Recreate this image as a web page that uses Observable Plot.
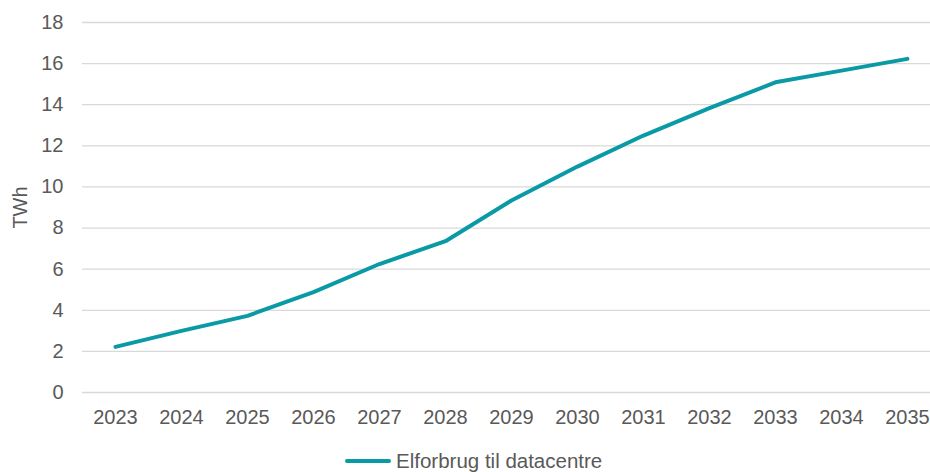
<!DOCTYPE html>
<html>
<head>
<meta charset="utf-8">
<script src="https://cdn.jsdelivr.net/npm/d3@7"></script>
<script src="https://cdn.jsdelivr.net/npm/@observablehq/plot@0.6"></script>
<style>
  body { margin: 0; background: #fff; font-family: "Liberation Sans", Arial, sans-serif; }
  #legend { position: relative; width: 930px; height: 32px; }
  #legend .item { position: absolute; left: 345px; top: 7px; display: flex; align-items: center; color: #595959; font-size: 20.5px; line-height: 28px; }
  #legend .swatch { width: 46px; height: 4px; border-radius: 2px; margin-right: 5px; }
</style>
</head>
<body>
<div id="chart"></div>
<div id="legend"></div>
<script>
// Danish data-centre electricity consumption, TWh per year
const years = [2023, 2024, 2025, 2026, 2027, 2028, 2029, 2030, 2031, 2032, 2033, 2034, 2035];
const values = [2.22, 3.0, 3.73, 4.88, 6.25, 7.36, 9.34, 10.99, 12.5, 13.83, 15.09, 15.66, 16.23];
const yTicks = [0, 2, 4, 6, 8, 10, 12, 14, 16, 18];
const seriesName = "Elforbrug til datacentre";
const yLabel = "TWh";
const lineColor = "#0a9aa5";

const data = years.map((year, i) => ({year, value: values[i]}));

const chart = Plot.plot({
  width: 930,
  height: 440,
  marginTop: 22,
  marginBottom: 48,
  marginLeft: 82,
  marginRight: 0,
  style: {fontFamily: "'Liberation Sans', Arial, sans-serif", fontSize: "20px", color: "#595959", background: "#fff"},
  x: {type: "linear", domain: [2022.5, 2035.35]},
  y: {domain: [0, 18]},
  marks: [
    Plot.ruleY(yTicks, {stroke: "#d9d9d9", strokeWidth: 1.3}),
    Plot.axisY(yTicks, {tickSize: 0, tickPadding: 19, fontSize: 20, label: yLabel, labelAnchor: "center", labelArrow: "none", labelOffset: 70}),
    Plot.axisX(years, {tickSize: 0, tickPadding: 17, fontSize: 20, tickFormat: d => String(d), label: null}),
    Plot.line(data, {x: "year", y: "value", stroke: lineColor, strokeWidth: 4, strokeLinecap: "round", strokeLinejoin: "round"})
  ]
});
document.getElementById("chart").append(chart);

// Legend below the chart
const legend = document.getElementById("legend");
const item = document.createElement("div");
item.className = "item";
const swatch = document.createElement("span");
swatch.className = "swatch";
swatch.style.background = lineColor;
const label = document.createElement("span");
label.textContent = seriesName;
item.append(swatch, label);
legend.append(item);
</script>
</body>
</html>
